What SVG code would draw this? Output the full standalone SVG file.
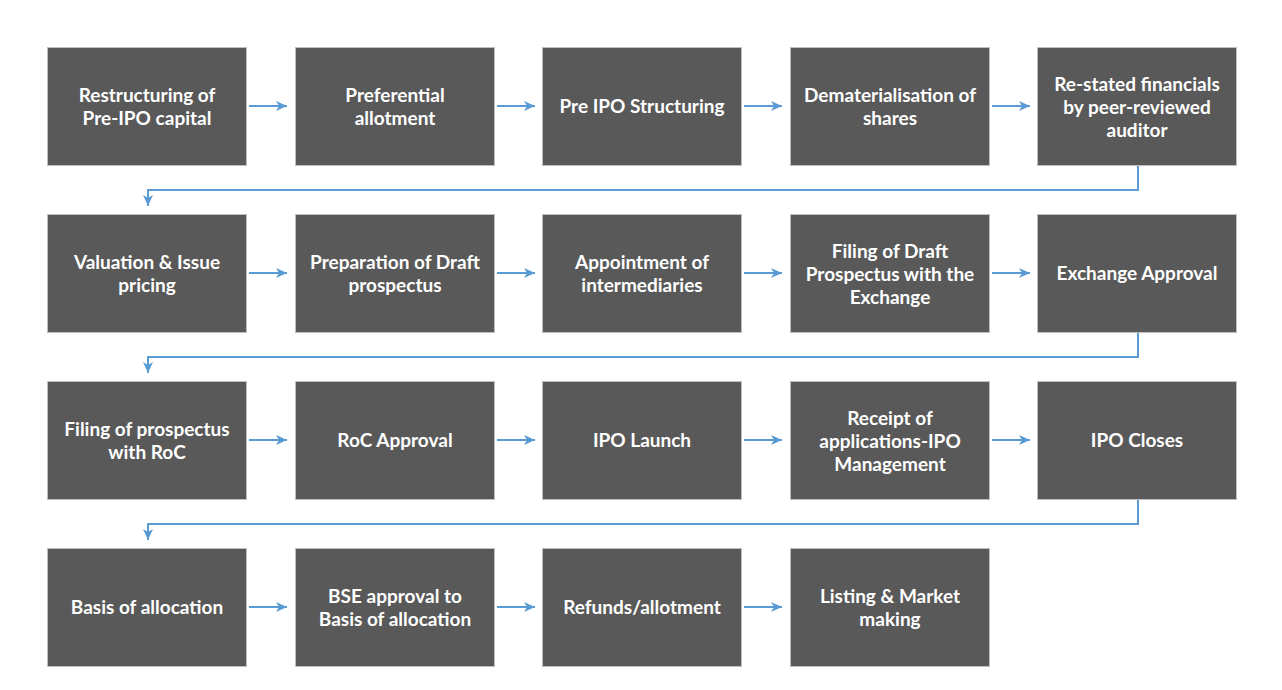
<svg xmlns="http://www.w3.org/2000/svg" width="1282" height="690" viewBox="0 0 1282 690">
<style>
.box{fill:#595959;stroke:#bfbfbf;stroke-width:1}
.t{font-family:Lato,"Open Sans",sans-serif;font-weight:bold;font-size:19px;fill:#ffffff;text-anchor:middle}
.c{fill:none;stroke:#5b9bd5;stroke-width:2;marker-end:url(#ah)}
</style>
<defs>
<marker id="ah" markerUnits="userSpaceOnUse" markerWidth="12" markerHeight="10" refX="11" refY="5" orient="auto">
<path d="M0,0 L11,5 L0,10 L3,5 z" fill="#5b9bd5"/>
</marker>
</defs>
<rect width="1282" height="690" fill="#ffffff"/>
<g id="connectors">
<path class="c" d="M249,106 H287"/>
<path class="c" d="M497,106 H535"/>
<path class="c" d="M744,106 H782"/>
<path class="c" d="M992,106 H1030"/>
<path class="c" d="M1138,166 V190 H148 V206"/>
<path class="c" d="M249,273 H287"/>
<path class="c" d="M497,273 H535"/>
<path class="c" d="M744,273 H782"/>
<path class="c" d="M992,273 H1030"/>
<path class="c" d="M1138,333 V357 H148 V373"/>
<path class="c" d="M249,440 H287"/>
<path class="c" d="M497,440 H535"/>
<path class="c" d="M744,440 H782"/>
<path class="c" d="M992,440 H1030"/>
<path class="c" d="M1138,500 V524 H148 V540"/>
<path class="c" d="M249,607 H287"/>
<path class="c" d="M497,607 H535"/>
<path class="c" d="M744,607 H782"/>
</g>
<g id="n1"><rect class="box" x="47.5" y="47.5" width="199" height="118"/><text class="t" x="147" y="102">Restructuring of</text><text class="t" x="147" y="125">Pre-IPO capital</text></g>
<g id="n2"><rect class="box" x="295.5" y="47.5" width="199" height="118"/><text class="t" x="395" y="102">Preferential</text><text class="t" x="395" y="125">allotment</text></g>
<g id="n3"><rect class="box" x="542.5" y="47.5" width="199" height="118"/><text class="t" x="642" y="113">Pre IPO Structuring</text></g>
<g id="n4"><rect class="box" x="790.5" y="47.5" width="199" height="118"/><text class="t" x="890" y="102">Dematerialisation of</text><text class="t" x="890" y="125">shares</text></g>
<g id="n5"><rect class="box" x="1037.5" y="47.5" width="199" height="118"/><text class="t" x="1137" y="91">Re-stated financials</text><text class="t" x="1137" y="114">by peer-reviewed</text><text class="t" x="1137" y="137">auditor</text></g>
<g id="n6"><rect class="box" x="47.5" y="214.5" width="199" height="118"/><text class="t" x="147" y="269">Valuation &amp; Issue</text><text class="t" x="147" y="292">pricing</text></g>
<g id="n7"><rect class="box" x="295.5" y="214.5" width="199" height="118"/><text class="t" x="395" y="269">Preparation of Draft</text><text class="t" x="395" y="292">prospectus</text></g>
<g id="n8"><rect class="box" x="542.5" y="214.5" width="199" height="118"/><text class="t" x="642" y="269">Appointment of</text><text class="t" x="642" y="292">intermediaries</text></g>
<g id="n9"><rect class="box" x="790.5" y="214.5" width="199" height="118"/><text class="t" x="890" y="258">Filing of Draft</text><text class="t" x="890" y="281">Prospectus with the</text><text class="t" x="890" y="304">Exchange</text></g>
<g id="n10"><rect class="box" x="1037.5" y="214.5" width="199" height="118"/><text class="t" x="1137" y="280">Exchange Approval</text></g>
<g id="n11"><rect class="box" x="47.5" y="381.5" width="199" height="118"/><text class="t" x="147" y="436">Filing of prospectus</text><text class="t" x="147" y="459">with RoC</text></g>
<g id="n12"><rect class="box" x="295.5" y="381.5" width="199" height="118"/><text class="t" x="395" y="447">RoC Approval</text></g>
<g id="n13"><rect class="box" x="542.5" y="381.5" width="199" height="118"/><text class="t" x="642" y="447">IPO Launch</text></g>
<g id="n14"><rect class="box" x="790.5" y="381.5" width="199" height="118"/><text class="t" x="890" y="425">Receipt of</text><text class="t" x="890" y="448">applications-IPO</text><text class="t" x="890" y="471">Management</text></g>
<g id="n15"><rect class="box" x="1037.5" y="381.5" width="199" height="118"/><text class="t" x="1137" y="447">IPO Closes</text></g>
<g id="n16"><rect class="box" x="47.5" y="548.5" width="199" height="118"/><text class="t" x="147" y="614">Basis of allocation</text></g>
<g id="n17"><rect class="box" x="295.5" y="548.5" width="199" height="118"/><text class="t" x="395" y="603">BSE approval to</text><text class="t" x="395" y="626">Basis of allocation</text></g>
<g id="n18"><rect class="box" x="542.5" y="548.5" width="199" height="118"/><text class="t" x="642" y="614">Refunds/allotment</text></g>
<g id="n19"><rect class="box" x="790.5" y="548.5" width="199" height="118"/><text class="t" x="890" y="603">Listing &amp; Market</text><text class="t" x="890" y="626">making</text></g>
</svg>
